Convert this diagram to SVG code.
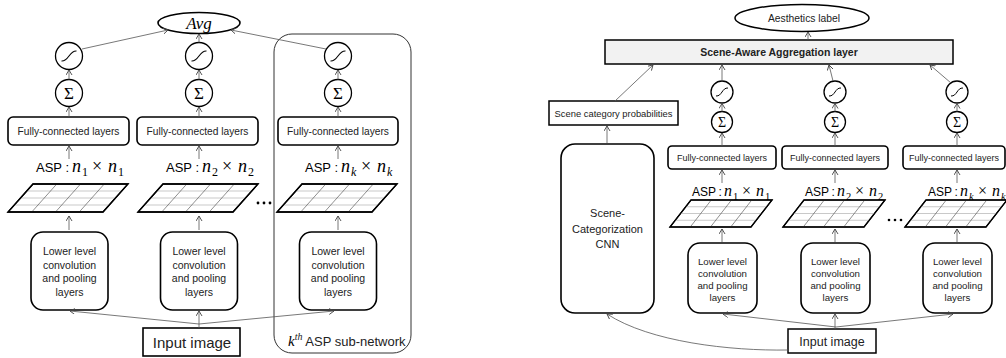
<svg xmlns="http://www.w3.org/2000/svg" width="1006" height="358" viewBox="0 0 1006 358">
<defs>
<marker id="ah" markerUnits="userSpaceOnUse" markerWidth="8" markerHeight="8" refX="5" refY="3" orient="auto">
<path d="M0,0 L5,3 L0,6" fill="none" stroke="#444" stroke-width="0.9"/>
</marker>
<path id="sig" d="M-7.5,5 C0,5.5 0,-5.5 7.5,-5" fill="none" stroke="#000" stroke-width="1.1"/>
<path id="sigs" d="M-6,4 C0,4.5 0,-4.5 6,-4" fill="none" stroke="#000" stroke-width="1"/>
</defs>
<style>
.box{fill:#fff;stroke:#000;stroke-width:1.6}
.circ{fill:#fff;stroke:#000;stroke-width:1.3}
.con{fill:none;stroke:#555;stroke-width:0.8;marker-end:url(#ah)}
.t{font-family:"Liberation Sans",Arial,sans-serif;fill:#222;text-anchor:middle}
.m{font-family:"Liberation Serif","DejaVu Serif",serif;font-style:italic;fill:#000}
.mr{font-family:"Liberation Serif","DejaVu Serif",serif;fill:#000}
.g-out{fill:#fff;stroke:#000;stroke-width:1.3}
.g-v{stroke:#444;stroke-width:0.6;fill:none}
.g-h{stroke:#bbb;stroke-width:0.8;fill:none}
</style>
<rect width="1006" height="358" fill="#fff"/>

<!-- ================= LEFT PANEL ================= -->
<g id="subnetwork">
<rect x="274" y="34" width="137" height="319" rx="18" fill="none" stroke="#333" stroke-width="1"/>
<text x="288" y="346" style="font-family:'Liberation Sans',Arial,sans-serif;font-size:13px;fill:#222"><tspan class="m" style="font-size:15px">k</tspan><tspan style="font-family:'Liberation Serif',serif;font-style:italic;font-size:10px" dy="-6">th</tspan><tspan dy="6"> ASP sub-network</tspan></text>
</g>

<g id="avg">
<ellipse cx="199" cy="23" rx="41" ry="10.5" class="box" stroke-width="1.5"/>
<text x="199" y="28.5" class="m" style="font-size:17px;text-anchor:middle">Avg</text>
</g>

<g id="L-col1">
<circle cx="69" cy="56" r="13.5" class="circ"/><use href="#sig" x="69" y="56"/>
<circle cx="69" cy="93" r="13.5" class="circ"/><text x="69" y="99" class="mr" style="font-size:17px;text-anchor:middle">Σ</text>
<rect x="8" y="117" width="121" height="28" rx="5" class="box"/>
<text x="68.5" y="134.5" class="t" style="font-size:10.2px">Fully-connected layers</text>
<text y="172" style="font-family:'Liberation Sans',Arial,sans-serif;font-size:13px;fill:#000"><tspan x="36">ASP</tspan><tspan x="65.5">:</tspan><tspan x="72" class="m" style="font-size:18px">n</tspan><tspan x="82" y="176" class="mr" style="font-size:12px">1</tspan><tspan x="92" y="172" class="mr" style="font-size:18px">×</tspan><tspan x="108" class="m" style="font-size:18px">n</tspan><tspan x="118" y="176" class="mr" style="font-size:12px">1</tspan></text>
<g transform="translate(69,0)">
<polygon points="-36,184 59,184 34,212 -61,212" class="g-out"/>
<path class="g-h" d="M-42.25,191 L52.75,191 M-48.5,198 L46.5,198 M-54.75,205 L40.25,205"/>
<path class="g-v" d="M-12.25,184 L-37.25,212 M11.5,184 L-13.5,212 M35.25,184 L10.25,212"/>
<polygon points="-36,184 59,184 34,212 -61,212" fill="none" stroke="#000" stroke-width="1.3"/>
</g>
<rect x="31" y="232" width="77" height="78" rx="12" class="box"/>
<text class="t" style="font-size:10.5px"><tspan x="69.5" y="255">Lower level</tspan><tspan x="69.5" y="268.5">convolution</tspan><tspan x="69.5" y="282">and pooling</tspan><tspan x="69.5" y="296">layers</tspan></text>
</g>

<g id="L-col2">
<circle cx="199" cy="56" r="13.5" class="circ"/><use href="#sig" x="199" y="56"/>
<circle cx="199" cy="93" r="13.5" class="circ"/><text x="199" y="99" class="mr" style="font-size:17px;text-anchor:middle">Σ</text>
<rect x="137" y="117" width="121" height="28" rx="5" class="box"/>
<text x="197.5" y="134.5" class="t" style="font-size:10.2px">Fully-connected layers</text>
<text y="172" style="font-family:'Liberation Sans',Arial,sans-serif;font-size:13px;fill:#000"><tspan x="166">ASP</tspan><tspan x="195.5">:</tspan><tspan x="202" class="m" style="font-size:18px">n</tspan><tspan x="212" y="176" class="mr" style="font-size:12px">2</tspan><tspan x="222" y="172" class="mr" style="font-size:18px">×</tspan><tspan x="238" class="m" style="font-size:18px">n</tspan><tspan x="248" y="176" class="mr" style="font-size:12px">2</tspan></text>
<g transform="translate(199,0)">
<polygon points="-36,184 59,184 34,212 -61,212" class="g-out"/>
<path class="g-h" d="M-42.25,191 L52.75,191 M-48.5,198 L46.5,198 M-54.75,205 L40.25,205"/>
<path class="g-v" d="M-12.25,184 L-37.25,212 M11.5,184 L-13.5,212 M35.25,184 L10.25,212"/>
<polygon points="-36,184 59,184 34,212 -61,212" fill="none" stroke="#000" stroke-width="1.3"/>
</g>
<rect x="160.5" y="232" width="77" height="78" rx="12" class="box"/>
<text class="t" style="font-size:10.5px"><tspan x="199" y="255">Lower level</tspan><tspan x="199" y="268.5">convolution</tspan><tspan x="199" y="282">and pooling</tspan><tspan x="199" y="296">layers</tspan></text>
</g>

<g id="L-col3">
<circle cx="338" cy="56" r="13.5" class="circ"/><use href="#sig" x="338" y="56"/>
<circle cx="338" cy="93" r="13.5" class="circ"/><text x="338" y="99" class="mr" style="font-size:17px;text-anchor:middle">Σ</text>
<rect x="278" y="117" width="120" height="28" rx="5" class="box"/>
<text x="338" y="134.5" class="t" style="font-size:10.2px">Fully-connected layers</text>
<text y="172" style="font-family:'Liberation Sans',Arial,sans-serif;font-size:13px;fill:#000"><tspan x="305">ASP</tspan><tspan x="334.5">:</tspan><tspan x="341" class="m" style="font-size:18px">n</tspan><tspan x="351" y="176" class="m" style="font-size:12px">k</tspan><tspan x="361" y="172" class="mr" style="font-size:18px">×</tspan><tspan x="377" class="m" style="font-size:18px">n</tspan><tspan x="387" y="176" class="m" style="font-size:12px">k</tspan></text>
<g transform="translate(338,0)">
<polygon points="-36,184 59,184 34,212 -61,212" class="g-out"/>
<path class="g-h" d="M-42.25,191 L52.75,191 M-48.5,198 L46.5,198 M-54.75,205 L40.25,205"/>
<path class="g-v" d="M-12.25,184 L-37.25,212 M11.5,184 L-13.5,212 M35.25,184 L10.25,212"/>
<polygon points="-36,184 59,184 34,212 -61,212" fill="none" stroke="#000" stroke-width="1.3"/>
</g>
<rect x="299.5" y="232" width="77" height="78" rx="12" class="box"/>
<text class="t" style="font-size:10.5px"><tspan x="338" y="255">Lower level</tspan><tspan x="338" y="268.5">convolution</tspan><tspan x="338" y="282">and pooling</tspan><tspan x="338" y="296">layers</tspan></text>
</g>

<g id="L-dots" fill="#000"><circle cx="258" cy="203" r="1.4"/><circle cx="264" cy="203" r="1.4"/><circle cx="270" cy="203" r="1.4"/></g>

<g id="L-input">
<rect x="143" y="328" width="97" height="28" fill="#fff" stroke="#000" stroke-width="1.6"/>
<text x="192" y="347.5" class="t" style="font-size:15px">Input image</text>
</g>

<g id="L-connectors">
<line x1="82" y1="49" x2="168" y2="30" class="con"/>
<line x1="199" y1="42.5" x2="199" y2="34" class="con"/>
<line x1="326" y1="49" x2="231" y2="30" class="con"/>
<line x1="69" y1="79.5" x2="69" y2="70" class="con"/>
<line x1="199" y1="79.5" x2="199" y2="70" class="con"/>
<line x1="338" y1="79.5" x2="338" y2="70" class="con"/>
<line x1="69" y1="117" x2="69" y2="107" class="con"/>
<line x1="199" y1="117" x2="199" y2="107" class="con"/>
<line x1="338" y1="117" x2="338" y2="107" class="con"/>
<line x1="69" y1="159" x2="69" y2="146" class="con"/>
<line x1="199" y1="159" x2="199" y2="146" class="con"/>
<line x1="338" y1="159" x2="338" y2="146" class="con"/>
<line x1="69" y1="230" x2="69" y2="216" class="con"/>
<line x1="199" y1="230" x2="199" y2="216" class="con"/>
<line x1="338" y1="230" x2="338" y2="216" class="con"/>
<line x1="199" y1="324" x2="70" y2="311" class="con"/>
<line x1="199" y1="328" x2="199" y2="311" class="con"/>
<line x1="199" y1="324" x2="334" y2="311" class="con"/>
</g>

<!-- ================= RIGHT PANEL ================= -->
<g id="aesthetics">
<ellipse cx="802" cy="18" rx="67" ry="13.5" fill="#fff" stroke="#000" stroke-width="1.5"/>
<text x="804" y="22" class="t" style="font-size:10.3px">Aesthetics label</text>
</g>

<g id="aggregation">
<rect x="605" y="40" width="348" height="24" fill="#f2f2f2" stroke="#000" stroke-width="1.5"/>
<text x="779" y="56" class="t" style="font-size:10.5px;font-weight:bold">Scene-Aware Aggregation layer</text>
</g>

<g id="probabilities">
<rect x="549" y="101" width="129" height="24" fill="#fff" stroke="#000" stroke-width="1.5"/>
<text x="613.5" y="116.5" class="t" style="font-size:9.4px">Scene category probabilities</text>
</g>

<g id="cnn">
<rect x="561" y="144" width="93" height="169" rx="14" class="box"/>
<text class="t" style="font-size:11px"><tspan x="607.5" y="217">Scene-</tspan><tspan x="607.5" y="232.5">Categorization</tspan><tspan x="607.5" y="247.5">CNN</tspan></text>
</g>

<g id="R-col1">
<circle cx="722" cy="92" r="11" class="circ"/><use href="#sigs" x="722" y="92"/>
<circle cx="722" cy="122" r="10.5" class="circ"/><text x="722" y="127" class="mr" style="font-size:14px;text-anchor:middle">Σ</text>
<rect x="668" y="146" width="108" height="23" rx="4" class="box"/>
<text x="722" y="161" class="t" style="font-size:9px">Fully-connected layers</text>
<text y="196" style="font-family:'Liberation Sans',Arial,sans-serif;font-size:12px;fill:#000"><tspan x="692">ASP</tspan><tspan x="718.5">:</tspan><tspan x="724" class="m" style="font-size:16px">n</tspan><tspan x="733" y="199.5" class="mr" style="font-size:10.5px">1</tspan><tspan x="742" y="196" class="mr" style="font-size:16px">×</tspan><tspan x="756" class="m" style="font-size:16px">n</tspan><tspan x="765" y="199.5" class="mr" style="font-size:10.5px">1</tspan></text>
<g transform="translate(722,0)">
<polygon points="-31,200 50,200 29,227 -52,227" class="g-out"/>
<path class="g-h" d="M-36.25,206.75 L44.75,206.75 M-41.5,213.5 L39.5,213.5 M-46.75,220.25 L34.25,220.25"/>
<path class="g-v" d="M-10.75,200 L-31.75,227 M9.5,200 L-11.5,227 M29.75,200 L8.75,227"/>
<polygon points="-31,200 50,200 29,227 -52,227" fill="none" stroke="#000" stroke-width="1.2"/>
</g>
<rect x="688" y="243" width="69" height="70" rx="12" class="box"/>
<text class="t" style="font-size:9.7px"><tspan x="722.5" y="264.5">Lower level</tspan><tspan x="722.5" y="276.5">convolution</tspan><tspan x="722.5" y="288.5">and pooling</tspan><tspan x="722.5" y="300.5">layers</tspan></text>
</g>

<g id="R-col2">
<circle cx="835" cy="92" r="11" class="circ"/><use href="#sigs" x="835" y="92"/>
<circle cx="835" cy="122" r="10.5" class="circ"/><text x="835" y="127" class="mr" style="font-size:14px;text-anchor:middle">Σ</text>
<rect x="782" y="146" width="106" height="23" rx="4" class="box"/>
<text x="835" y="161" class="t" style="font-size:9px">Fully-connected layers</text>
<text y="196" style="font-family:'Liberation Sans',Arial,sans-serif;font-size:12px;fill:#000"><tspan x="805">ASP</tspan><tspan x="831.5">:</tspan><tspan x="837" class="m" style="font-size:16px">n</tspan><tspan x="846" y="199.5" class="mr" style="font-size:10.5px">2</tspan><tspan x="855" y="196" class="mr" style="font-size:16px">×</tspan><tspan x="869" class="m" style="font-size:16px">n</tspan><tspan x="878" y="199.5" class="mr" style="font-size:10.5px">2</tspan></text>
<g transform="translate(835,0)">
<polygon points="-31,200 50,200 29,227 -52,227" class="g-out"/>
<path class="g-h" d="M-36.25,206.75 L44.75,206.75 M-41.5,213.5 L39.5,213.5 M-46.75,220.25 L34.25,220.25"/>
<path class="g-v" d="M-10.75,200 L-31.75,227 M9.5,200 L-11.5,227 M29.75,200 L8.75,227"/>
<polygon points="-31,200 50,200 29,227 -52,227" fill="none" stroke="#000" stroke-width="1.2"/>
</g>
<rect x="801" y="243" width="69" height="70" rx="12" class="box"/>
<text class="t" style="font-size:9.7px"><tspan x="835.5" y="264.5">Lower level</tspan><tspan x="835.5" y="276.5">convolution</tspan><tspan x="835.5" y="288.5">and pooling</tspan><tspan x="835.5" y="300.5">layers</tspan></text>
</g>

<g id="R-col3">
<circle cx="957" cy="92" r="11" class="circ"/><use href="#sigs" x="957" y="92"/>
<circle cx="957" cy="122" r="10.5" class="circ"/><text x="957" y="127" class="mr" style="font-size:14px;text-anchor:middle">Σ</text>
<rect x="903" y="146" width="102" height="23" rx="4" class="box"/>
<text x="954" y="161" class="t" style="font-size:9px">Fully-connected layers</text>
<text y="196" style="font-family:'Liberation Sans',Arial,sans-serif;font-size:12px;fill:#000"><tspan x="928">ASP</tspan><tspan x="954.5">:</tspan><tspan x="960" class="m" style="font-size:16px">n</tspan><tspan x="969" y="199.5" class="m" style="font-size:10.5px">k</tspan><tspan x="978" y="196" class="mr" style="font-size:16px">×</tspan><tspan x="992" class="m" style="font-size:16px">n</tspan><tspan x="1001" y="199.5" class="m" style="font-size:10.5px">k</tspan></text>
<g transform="translate(957,0)">
<polygon points="-31,200 50,200 29,227 -52,227" class="g-out"/>
<path class="g-h" d="M-36.25,206.75 L44.75,206.75 M-41.5,213.5 L39.5,213.5 M-46.75,220.25 L34.25,220.25"/>
<path class="g-v" d="M-10.75,200 L-31.75,227 M9.5,200 L-11.5,227 M29.75,200 L8.75,227"/>
<polygon points="-31,200 50,200 29,227 -52,227" fill="none" stroke="#000" stroke-width="1.2"/>
</g>
<rect x="923" y="243" width="69" height="70" rx="12" class="box"/>
<text class="t" style="font-size:9.7px"><tspan x="957.5" y="264.5">Lower level</tspan><tspan x="957.5" y="276.5">convolution</tspan><tspan x="957.5" y="288.5">and pooling</tspan><tspan x="957.5" y="300.5">layers</tspan></text>
</g>

<g id="R-dots" fill="#000"><circle cx="889" cy="220" r="1.3"/><circle cx="895" cy="220" r="1.3"/><circle cx="901" cy="220" r="1.3"/></g>

<g id="R-input">
<rect x="788" y="329" width="88" height="24" fill="#fff" stroke="#000" stroke-width="1.5"/>
<text x="832" y="346" class="t" style="font-size:12.5px">Input image</text>
</g>

<g id="R-connectors">
<line x1="808" y1="40" x2="808" y2="32" class="con"/>
<line x1="615" y1="101" x2="653" y2="65" class="con"/>
<line x1="607" y1="143" x2="607" y2="126" class="con"/>
<line x1="722" y1="81" x2="722" y2="65" class="con"/>
<line x1="833" y1="81" x2="829" y2="65" class="con"/>
<line x1="951" y1="83" x2="930" y2="65" class="con"/>
<line x1="722" y1="111.5" x2="722" y2="103.5" class="con"/>
<line x1="835" y1="111.5" x2="835" y2="103.5" class="con"/>
<line x1="957" y1="111.5" x2="957" y2="103.5" class="con"/>
<line x1="722" y1="146" x2="722" y2="133" class="con"/>
<line x1="835" y1="146" x2="835" y2="133" class="con"/>
<line x1="957" y1="146" x2="957" y2="133" class="con"/>
<line x1="722" y1="183" x2="722" y2="170" class="con"/>
<line x1="835" y1="183" x2="835" y2="170" class="con"/>
<line x1="957" y1="183" x2="957" y2="170" class="con"/>
<line x1="722" y1="242" x2="722" y2="229" class="con"/>
<line x1="835" y1="242" x2="835" y2="229" class="con"/>
<line x1="957" y1="242" x2="957" y2="229" class="con"/>
<line x1="836" y1="327" x2="723" y2="314" class="con"/>
<line x1="835" y1="329" x2="835" y2="314" class="con"/>
<line x1="836" y1="327" x2="953" y2="314" class="con"/>
<path d="M788,350 C730,351 650,342 607,314" class="con"/>
</g>
</svg>
